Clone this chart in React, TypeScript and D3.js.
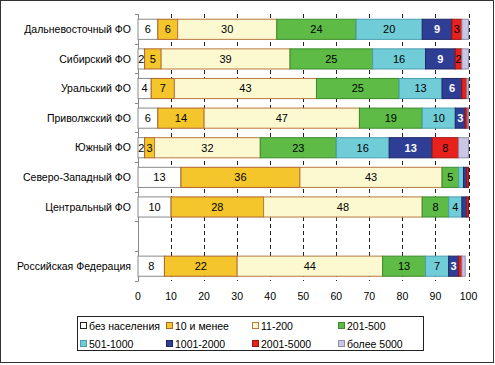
import React, { useEffect, useRef } from 'react';
import * as d3 from 'd3';

const regions = [
	'Дальневосточный ФО',
	'Сибирский ФО',
	'Уральский ФО',
	'Приволжский ФО',
	'Южный ФО',
	'Северо-Западный ФО',
	'Центральный ФО',
	'',
	'Российская Федерация',
];

const groups = ['без населения', '10 и менее', '11-200', '201-500', '501-1000', '1001-2000', '2001-5000', 'более 5000'];

// shares, % (one value per group)
const farEast = [6, 6, 30, 24, 20, 9, 3, 2];
const siberia = [2, 5, 39, 25, 16, 9, 2, 2];
const ural = [4, 7, 43, 25, 13, 6, 1.5, 0.5];
const volga = [6, 14, 47, 19, 10, 3, 0.8, 0.2];
const south = [2, 3, 32, 23, 16, 13, 8, 3];
const northWest = [13, 36, 43, 5, 1.5, 1, 0.5, 0];
const central = [10, 28, 48, 8, 4, 1.5, 0.5, 0];
const russia = [8, 22, 44, 13, 7, 3, 1, 1];

const rows = [farEast, siberia, ural, volga, south, northWest, central, null, russia];

const xTicks = [0, 10, 20, 30, 40, 50, 60, 70, 80, 90, 100];

const colors = ['#ffffff', '#f4c62c', '#fcf9d0', '#5dbb46', '#70ccd6', '#2f3e95', '#e8211c', '#c9c7e3'];
const strokes = ['#8a8a8a', '#b0642c', '#b87a44', '#3f8a2e', '#4a9fb0', '#1d2766', '#9e1510', '#8f8da8'];
const textColors = ['#000', '#000', '#000', '#000', '#000', '#fff', '#000', '#000'];

const W = 495;
const H = 365;
const font = '"Liberation Sans", Arial, sans-serif';

const drawChart = (el: SVGSVGElement) => {
	const svg = d3.select(el);
	svg.selectAll('*').remove();

	svg.append('rect')
		.attr('x', 0.5).attr('y', 0.5)
		.attr('width', W - 2).attr('height', H - 3)
		.attr('fill', '#fff').attr('stroke', '#333');

	const x = d3.scaleLinear().domain([0, 100]).range([138, 468.5]);
	const y = d3.scaleBand().domain(d3.range(regions.length).map(String)).range([14.5, 281]).paddingInner(0.32).paddingOuter(0.16);

	// dashed grid
	svg.append('g')
		.selectAll('line')
		.data(xTicks.slice(1))
		.join('line')
		.attr('x1', (d) => Math.round(x(d)) + 0.5)
		.attr('x2', (d) => Math.round(x(d)) + 0.5)
		.attr('y1', 14)
		.attr('y2', 281)
		.attr('stroke', '#222')
		.attr('stroke-dasharray', '4,3');

	// y axis line + ticks
	const yAxis = svg.append('g');
	yAxis.append('line')
		.attr('x1', 138.5).attr('x2', 138.5).attr('y1', 14).attr('y2', 281)
		.attr('stroke', '#888');
	yAxis.selectAll('line.t')
		.data(d3.range(regions.length + 1))
		.join('line')
		.attr('class', 't')
		.attr('x1', 135).attr('x2', 138.5)
		.attr('y1', (i) => Math.round(14 + i * y.step()) + 0.5)
		.attr('y2', (i) => Math.round(14 + i * y.step()) + 0.5)
		.attr('stroke', '#888');

	// category labels
	svg.append('g')
		.selectAll('text')
		.data(regions)
		.join('text')
		.attr('x', 131)
		.attr('y', (d, i) => y(String(i))! + y.bandwidth() / 2)
		.attr('dy', '0.35em')
		.attr('text-anchor', 'end')
		.style('font-family', font)
		.style('font-size', '10.5px')
		.text((d) => d);

	// bars
	rows.forEach((vals, i) => {
		if (!vals) return;
		let acc = 0;
		const segs = vals.map((v, k) => {
			const s = { k, v, x0: acc, x1: acc + v };
			acc += v;
			return s;
		});
		const g = svg.append('g');
		const top = y(String(i))!;
		g.selectAll('rect')
			.data(segs.filter((s) => s.v > 0))
			.join('rect')
			.attr('x', (s) => x(s.x0))
			.attr('y', top)
			.attr('width', (s) => Math.max(0.5, x(s.x1) - x(s.x0)))
			.attr('height', y.bandwidth())
			.attr('fill', (s) => colors[s.k])
			.attr('stroke', (s) => strokes[s.k])
			.attr('stroke-width', 1);
		// no labels on the last group (более 5000)
		g.selectAll('text')
			.data(segs.filter((s) => s.v >= 2 && s.k < 7))
			.join('text')
			.attr('x', (s) => (x(s.x0) + x(s.x1)) / 2)
			.attr('y', top + y.bandwidth() / 2)
			.attr('dy', '0.35em')
			.attr('text-anchor', 'middle')
			.attr('fill', (s) => textColors[s.k])
			.style('font-family', font)
			.style('font-size', '11px')
			.style('font-weight', (s) => (s.k === 5 ? 'bold' : 'normal'))
			.text((s) => s.v);
	});

	// x tick labels
	svg.append('g')
		.selectAll('text')
		.data(xTicks)
		.join('text')
		.attr('x', (d) => x(d))
		.attr('y', 296)
		.attr('dy', '0.35em')
		.attr('text-anchor', 'middle')
		.style('font-family', font)
		.style('font-size', '10.5px')
		.text((d) => d);

	// legend
	const lg = svg.append('g');
	lg.append('rect')
		.attr('x', 77.5).attr('y', 316.5)
		.attr('width', 346).attr('height', 34)
		.attr('fill', '#fff').attr('stroke', '#222');
	const colX = [80, 166, 252, 338];
	groups.forEach((name, k) => {
		const cx = colX[k % 4];
		const cy = k < 4 ? 326 : 344;
		lg.append('rect')
			.attr('x', cx + 0.5).attr('y', cy - 3.5)
			.attr('width', 6).attr('height', 6)
			.attr('fill', colors[k]).attr('stroke', k === 0 ? '#222' : strokes[k]);
		lg.append('text')
			.attr('x', cx + 9)
			.attr('y', cy)
			.attr('dy', '0.35em')
			.style('font-family', font)
			.style('font-size', '10.5px')
			.text(name);
	});
};

export default function App() {
	const ref = useRef<SVGSVGElement>(null);

	useEffect(() => {
		if (ref.current) drawChart(ref.current);
	}, []);

	return (
		<svg
			ref={ref}
			width={W}
			height={H}
			style={{ position: 'absolute', left: 0, top: 0, display: 'block' }}
		/>
	);
}
